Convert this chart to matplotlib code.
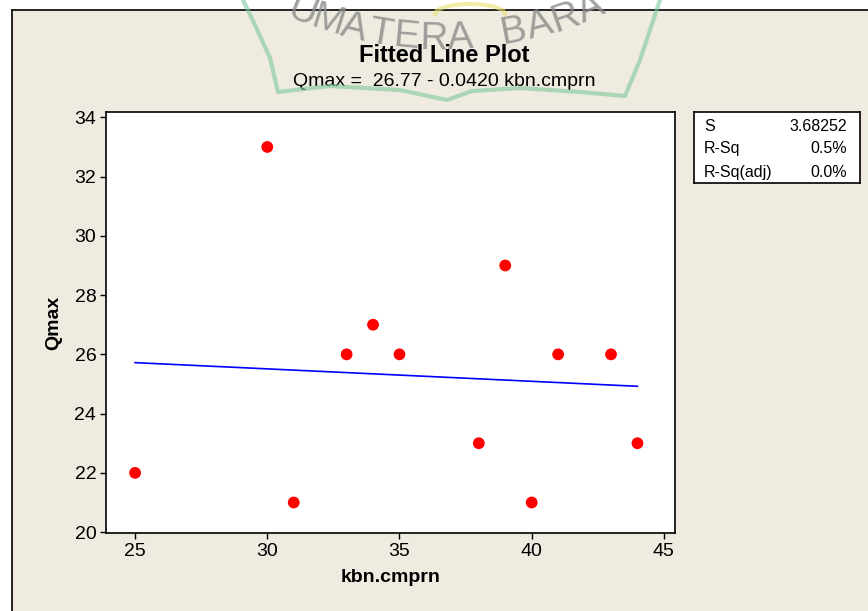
import numpy as np
import matplotlib
matplotlib.use("Agg")
import matplotlib.pyplot as plt
from matplotlib.patches import Rectangle

# data
kbn_cmprn = [25, 30, 31, 33, 34, 35, 38, 39, 40, 41, 43, 44]
qmax = [22, 33, 21, 26, 27, 26, 23, 29, 21, 26, 26, 23]
intercept = 26.77
slope = -0.0420
stat_names = ["S", "R-Sq", "R-Sq(adj)"]
stat_values = ["3.68252", "0.5%", "0.0%"]
xticks = [25, 30, 35, 40, 45]
yticks = [20, 22, 24, 26, 28, 30, 32, 34]

W, H = 868, 611
bg = "#EFEBE1"
plt.rcParams["font.family"] = ["Liberation Sans", "DejaVu Sans"]

fig = plt.figure(figsize=(W / 100, H / 100), dpi=100, facecolor="white")


def px(x, y):
    # pixel coords (y down) -> figure fraction
    return x / W, 1 - y / H


# beige panel with black top/left edge
fig.patches.append(Rectangle(px(12, H), (W - 12) / W, (H - 10) / H,
                             transform=fig.transFigure, facecolor=bg,
                             edgecolor="none", zorder=-5))
fig.add_artist(plt.Line2D([12 / W, 1], [1 - 10 / H] * 2, color="black", lw=1.2,
                          transform=fig.transFigure, zorder=-4))
fig.add_artist(plt.Line2D([12 / W] * 2, [0, 1 - 10 / H], color="black", lw=1.2,
                          transform=fig.transFigure, zorder=-4))

# main axes
l, b = px(106, 533)
r, t = px(675, 112)
ax = fig.add_axes([l, b, r - l, t - b])
ax.set_facecolor("white")

x_fit = np.array([min(kbn_cmprn), max(kbn_cmprn)])
ax.plot(x_fit, intercept + slope * x_fit, color="#0000FF", lw=1.2, zorder=2)
ax.scatter(kbn_cmprn, qmax, s=72, color="#FF0000", edgecolors="none", zorder=3)

ax.set_xlim(23.9, 45.42)
ax.set_ylim(19.97, 34.18)
ax.set_xticks(xticks)
ax.set_yticks(yticks)
ax.tick_params(direction="out", length=4, width=1, labelsize=14, colors="black",
               pad=3)
for s in ax.spines.values():
    s.set_linewidth(1.2)
ax.set_xlabel("kbn.cmprn", fontsize=14, fontweight="bold", labelpad=7)
ax.set_ylabel("Qmax", fontsize=14, fontweight="bold", labelpad=9)

# titles
fig.text(*px(444, 55), "Fitted Line Plot", ha="center", va="center",
         fontsize=17, fontweight="bold")
fig.text(*px(444, 81), "Qmax =  26.77 - 0.0420 kbn.cmprn", ha="center",
         va="center", fontsize=14)

# stats box
bl, bb = px(694, 183)
br, bt = px(860, 112)
sax = fig.add_axes([bl, bb, br - bl, bt - bb])
sax.set_xticks([])
sax.set_yticks([])
sax.set_facecolor("white")
for s in sax.spines.values():
    s.set_linewidth(1.2)
row_y = [0.79, 0.48, 0.15]
for name, val, yy in zip(stat_names, stat_values, row_y):
    sax.text(0.06, yy, name, ha="left", va="center", fontsize=11.5,
             transform=sax.transAxes)
    sax.text(0.92, yy, val, ha="right", va="center", fontsize=11.5,
             transform=sax.transAxes)

# watermark (logo text on an arc + green outline)
cx, cy, R = 442, -341, 380
letters = "UMATERA BARA"
angles = np.linspace(-21.5, 23.0, len(letters))
for ch, a in zip(letters, angles):
    xx = cx + R * np.sin(np.radians(a))
    yy = cy + R * np.cos(np.radians(a))
    fig.text(*px(xx, yy), ch, ha="center", va="center", fontsize=28,
             rotation=a, color="#8A8A8A", alpha=0.8, zorder=5)

outline = [(243, 0), (255, 25), (270, 58), (278, 92), (330, 86), (400, 90),
           (447, 100), (472, 91), (520, 88), (580, 92), (625, 96), (640, 60),
           (650, 30), (660, 0)]
ox = [p[0] / W for p in outline]
oy = [1 - p[1] / H for p in outline]
fig.add_artist(plt.Line2D(ox, oy, color="#7CC99A", lw=3, alpha=0.6,
                          solid_joinstyle="round", transform=fig.transFigure,
                          zorder=4))
arc_t = np.linspace(0, np.pi, 30)
fig.add_artist(plt.Line2D((470 + 35 * np.cos(arc_t)) / W,
                          1 - (14 - 10 * np.sin(arc_t)) / H,
                          color="#E8E070", lw=3, alpha=0.6,
                          transform=fig.transFigure, zorder=4))

fig.savefig("out.png", dpi=100, facecolor=fig.get_facecolor())
